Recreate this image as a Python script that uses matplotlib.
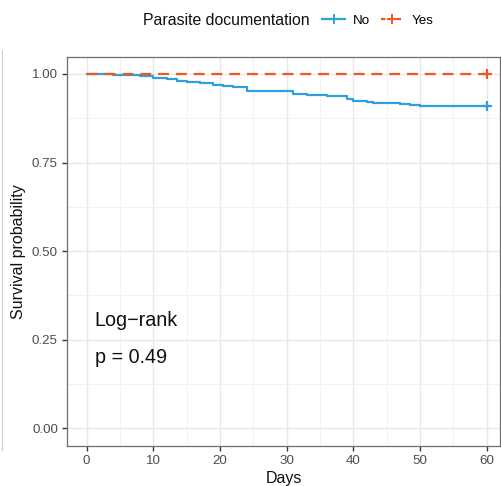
import matplotlib
matplotlib.use("Agg")
import matplotlib.pyplot as plt
from matplotlib.lines import Line2D
import numpy as np

plt.rcParams["font.family"] = ["Liberation Sans", "DejaVu Sans"]

# Kaplan-Meier step estimates per group (day of event, survival after it)
no_days = [0, 4, 8, 10, 12, 13.5, 15, 17, 19, 20.5, 22, 24, 31, 33, 36, 39, 40, 42, 43, 47, 48.5, 50, 60]
no_surv = [1.0, 0.997, 0.994, 0.988, 0.985, 0.981, 0.977, 0.974, 0.970, 0.966, 0.963, 0.951,
           0.944, 0.941, 0.938, 0.930, 0.925, 0.920, 0.918, 0.915, 0.912, 0.909, 0.909]
yes_days = [0, 60]
yes_surv = [1.0, 1.0]

# censoring at end of follow-up
no_censor = ([60], [0.909])
yes_censor = ([60], [1.0])

x_ticks = [0, 10, 20, 30, 40, 50, 60]
y_ticks = [0.00, 0.25, 0.50, 0.75, 1.00]
y_tick_labels = ["0.00", "0.25", "0.50", "0.75", "1.00"]

group_labels = ["No", "Yes"]
legend_title = "Parasite documentation"
p_text = "Log\u2212rank\n\np = 0.49"

blue = "#2E9FDF"
orange = "#F0561D"

fig = plt.figure(figsize=(5.01, 4.86), dpi=100)
ax = fig.add_axes([0.1337, 0.0823, 0.8643, 0.7997])

lw = 1.6
dash = (0, (4.9, 3.1))

ax.step(no_days, no_surv, where="post", color=blue, lw=lw, zorder=3)
ax.step(yes_days, yes_surv, where="post", color=orange, lw=lw, ls=dash, zorder=4)
ax.plot(*no_censor, ls="none", marker="+", ms=7.5, mew=1.6, color=blue, zorder=5)
ax.plot(*yes_censor, ls="none", marker="+", ms=7.5, mew=1.6, color=orange, zorder=5)

ax.set_xlim(-2.95, 62.0)
ax.set_ylim(-0.05, 1.047)
ax.set_xticks(x_ticks)
ax.set_yticks(y_ticks)
ax.set_yticklabels(y_tick_labels)
ax.set_xticks(np.arange(5, 62, 10), minor=True)
ax.set_yticks([0.125, 0.375, 0.625, 0.875], minor=True)

ax.grid(which="major", color="#E8E8E8", lw=1.0, zorder=0)
ax.grid(which="minor", color="#F2F2F2", lw=0.7, zorder=0)
ax.set_axisbelow(True)

ax.tick_params(which="major", direction="out", length=3.5, width=1.0, color="#333333",
               labelsize=9.6, labelcolor="#4D4D4D", pad=3)
ax.tick_params(which="minor", length=0)
ax.tick_params(axis="x", top=False)
ax.tick_params(axis="y", right=False)

for sp in ax.spines.values():
    sp.set_color("#6E6E6E")
    sp.set_linewidth(0.9)

ax.set_xlabel("Days", fontsize=11.5, color="#111111", labelpad=3)
ax.set_ylabel("Survival probability", fontsize=11.5, color="#111111", labelpad=4)

ax.text(1.2, 0.252, p_text, fontsize=14.2, color="#111111", va="center", ha="left",
        linespacing=0.95)

# legend across the top: title followed by the two group keys
fig.text(0.286, 0.958, legend_title, fontsize=11.4, color="#111111", ha="left", va="center")
handles = [
    Line2D([], [], color=blue, lw=lw, marker="+", ms=7, mew=1.4),
    Line2D([], [], color=orange, lw=lw, ls=(0, (2.0, 1.5)), marker="+", ms=7, mew=1.4),
]
fig.legend(handles, group_labels, loc="center left", bbox_to_anchor=(0.643, 0.958), ncol=2,
           frameon=False, fontsize=9.6, handlelength=1.75, handletextpad=0.55,
           columnspacing=0.8, borderpad=0, borderaxespad=0)

# faint outer frame edge at the left
fig.add_artist(Line2D([0.003, 0.003], [1 - 50 / 486, 1 - 450 / 486], transform=fig.transFigure,
                      color="#D0D0D0", lw=0.9))

fig.savefig("out.png", dpi=100)
